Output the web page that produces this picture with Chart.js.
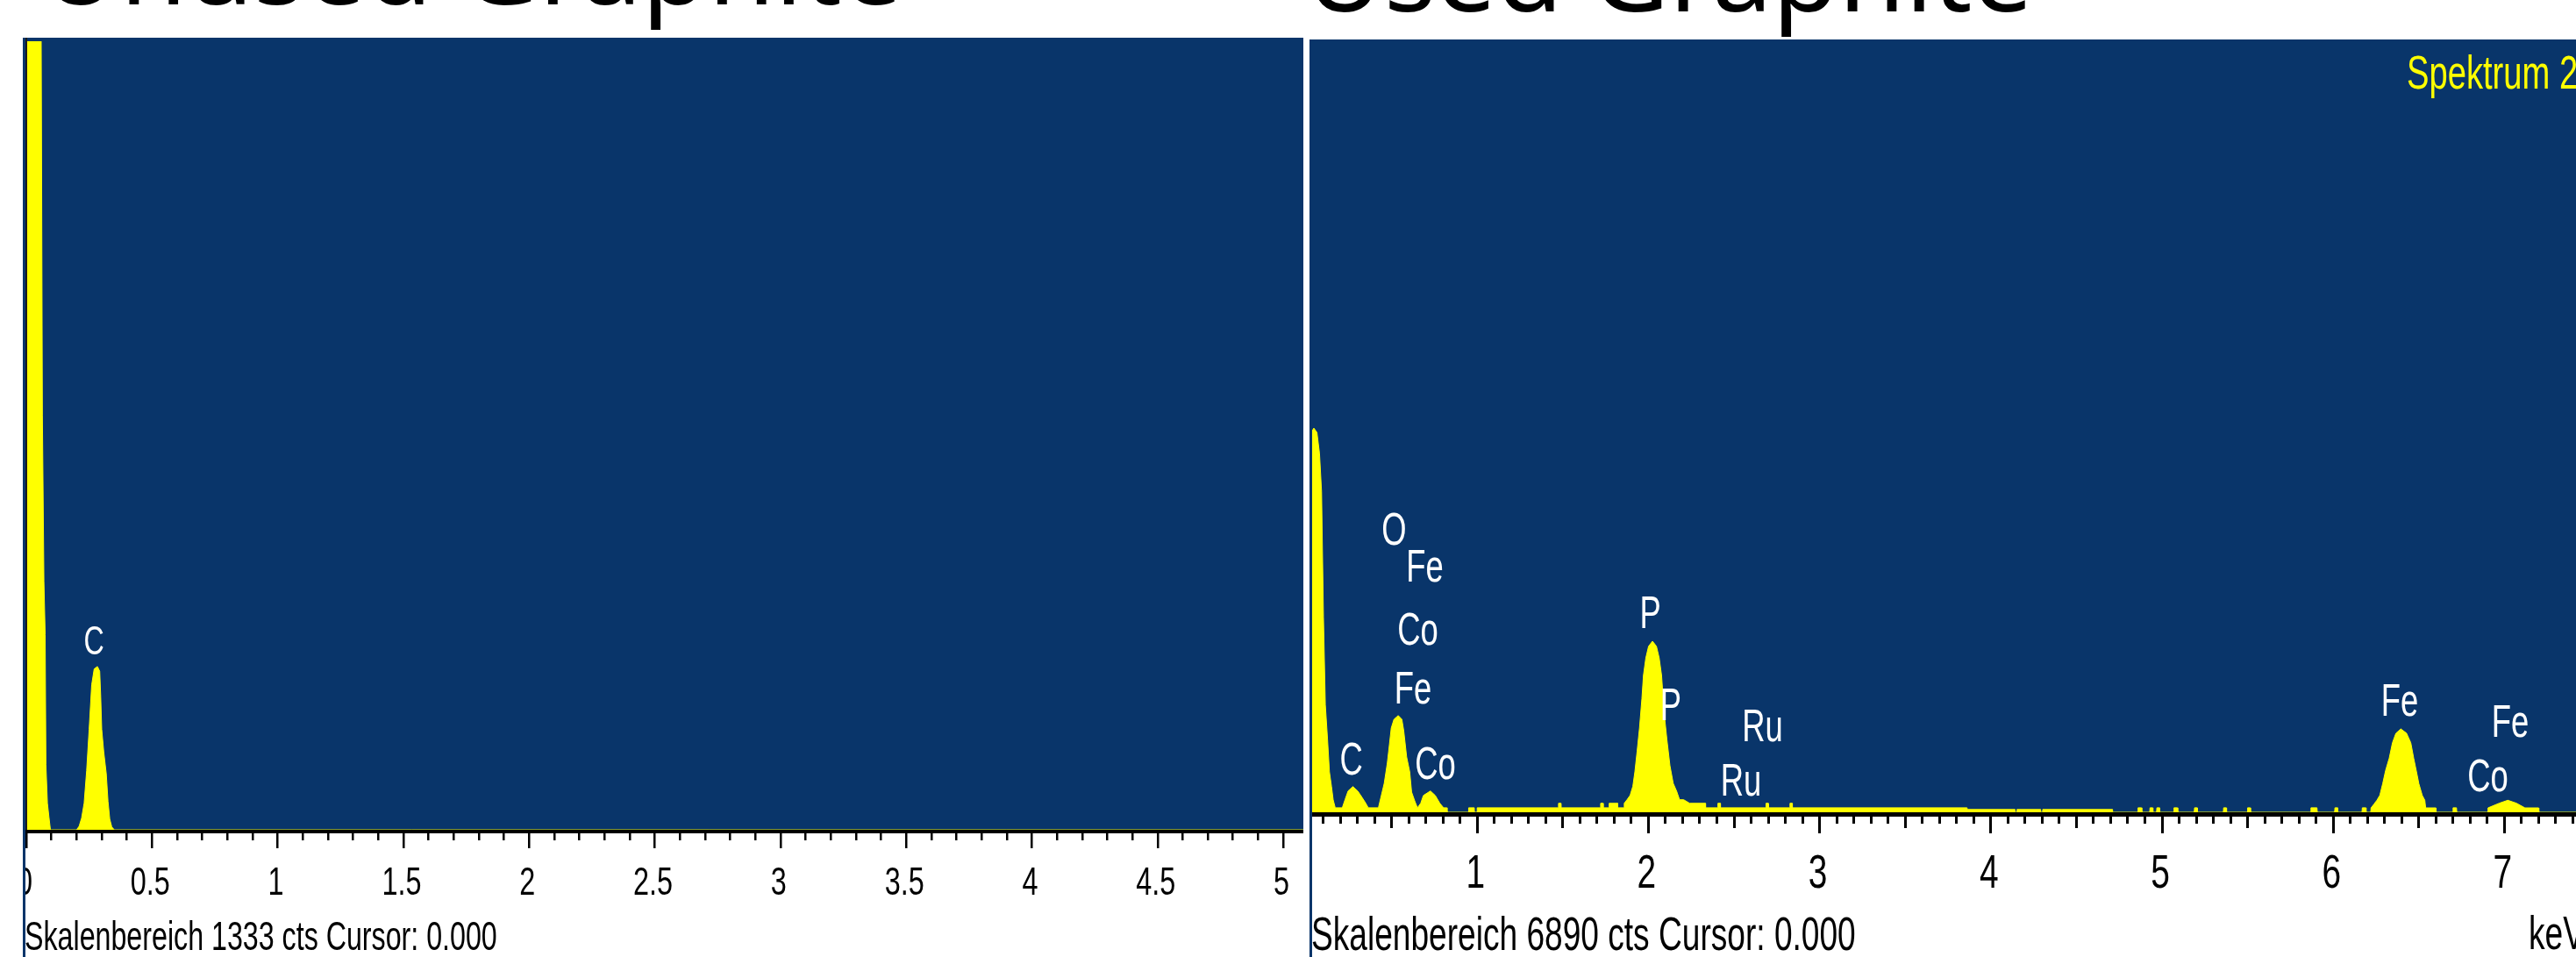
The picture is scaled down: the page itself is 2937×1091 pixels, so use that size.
<!DOCTYPE html>
<html><head><meta charset="utf-8">
<script src="https://cdn.jsdelivr.net/npm/chart.js@4/dist/chart.umd.min.js"></script>
<style>
html,body{margin:0;padding:0;background:#fff;width:2937px;height:1091px;overflow:hidden;}
canvas{position:absolute;top:0;}
#c1{left:0}
#c2{left:1489px}
</style></head><body>
<canvas id="c1" width="1489" height="1091"></canvas>
<canvas id="c2" width="1448" height="1091"></canvas>
<script>
// ---------- data ----------
const titleUnused = 'Unused Graphite';
const titleUsed = 'Used Graphite';
const footerUnused = 'Skalenbereich 1333 cts Cursor: 0.000';
const footerUsed = 'Skalenbereich 6890 cts Cursor: 0.000';
const spectrumName = 'Spektrum 2';
const unitLabel = 'keV';
const fullScaleUnused = 1333;
const fullScaleUsed = 6890;

const tickValuesUnused = [0, 0.5, 1, 1.5, 2, 2.5, 3, 3.5, 4, 4.5, 5];
const tickLabelsUnused = ['0', '0.5', '1', '1.5', '2', '2.5', '3', '3.5', '4', '4.5', '5'];
const tickValuesUsed = [1, 2, 3, 4, 5, 6, 7];
const tickLabelsUsed = ['1', '2', '3', '4', '5', '6', '7'];

// [keV, counts]
const spectrumUnused = [
  [0.0, 6000], [0.05, 6000], [0.058, 1500], [0.064, 700], [0.07, 420], [0.075, 330], [0.078, 110],
  [0.084, 45], [0.09, 22], [0.096, 0],
  [0.2, 0], [0.21, 6], [0.22, 20], [0.23, 45], [0.24, 100], [0.25, 170], [0.26, 245], [0.27, 272],
  [0.283, 276], [0.292, 268], [0.296, 225], [0.3, 170], [0.308, 132], [0.318, 95], [0.325, 48],
  [0.332, 18], [0.34, 5], [0.35, 0], [5.08, 0]
];

const spectrumUsed = [
  [0.0205, 3380], [0.036, 3400], [0.046, 3425], [0.064, 3386], [0.079, 3200], [0.091, 2860], [0.102, 1740],
  [0.113, 960], [0.126, 650], [0.137, 360], [0.149, 230], [0.159, 110], [0.171, 40],
  [0.212, 40], [0.228, 112], [0.246, 190], [0.274, 229], [0.302, 190], [0.32, 150], [0.347, 86], [0.364, 40],
  [0.423, 40], [0.44, 149], [0.457, 258], [0.475, 438], [0.485, 571], [0.498, 751], [0.514, 829], [0.539, 862],
  [0.56, 829], [0.571, 727], [0.588, 493], [0.606, 360], [0.617, 180], [0.635, 102], [0.651, 40],
  [0.67, 80], [0.686, 150], [0.727, 190], [0.755, 150], [0.782, 80], [0.804, 40], [0.823, 40], [0.824, 0],
  [0.949, 0], [0.95, 40], [0.983, 40], [0.984, 0], [0.999, 0], [1.0, 40],
  [1.474, 40], [1.475, 80], [1.49, 80], [1.491, 40],
  [1.72, 40], [1.721, 80], [1.735, 80], [1.736, 40],
  [1.77, 40], [1.771, 80], [1.82, 80], [1.821, 40],
  [1.855, 40], [1.859, 80], [1.875, 112], [1.893, 150], [1.909, 230], [1.921, 360], [1.934, 542], [1.948, 751],
  [1.962, 1011], [1.971, 1220], [1.985, 1376], [2.001, 1480], [2.024, 1525], [2.047, 1480], [2.063, 1376],
  [2.077, 1220], [2.092, 884], [2.108, 650], [2.126, 415], [2.145, 258], [2.165, 188], [2.182, 112],
  [2.206, 112], [2.241, 80], [2.333, 80], [2.334, 40],
  [2.405, 40], [2.406, 80], [2.42, 80], [2.421, 40],
  [2.686, 40], [2.687, 80], [2.7, 80], [2.701, 40],
  [2.826, 40], [2.827, 80], [2.84, 80], [2.841, 40],
  [3.86, 40], [3.861, 25], [4.14, 25], [4.141, 0], [4.152, 0], [4.153, 25], [4.29, 25], [4.291, 0],
  [4.302, 0], [4.303, 25], [4.71, 25], [4.711, 0],
  [4.858, 0], [4.86, 40], [4.88, 40], [4.882, 0],
  [4.928, 0], [4.93, 40], [4.945, 40], [4.947, 0],
  [4.968, 0], [4.97, 40], [4.985, 40], [4.987, 0],
  [5.068, 0], [5.07, 40], [5.09, 40], [5.092, 0],
  [5.188, 0], [5.19, 40], [5.205, 40], [5.207, 0],
  [5.358, 0], [5.36, 40], [5.375, 40], [5.377, 0],
  [5.498, 0], [5.5, 40], [5.515, 40], [5.517, 0],
  [5.868, 0], [5.87, 40], [5.905, 40], [5.907, 0],
  [6.008, 0], [6.01, 40], [6.025, 40], [6.027, 0],
  [6.168, 0], [6.17, 40], [6.19, 40], [6.192, 0],
  [6.219, 0], [6.221, 39], [6.238, 73], [6.255, 107], [6.272, 151], [6.289, 256], [6.306, 373], [6.327, 482],
  [6.346, 620], [6.366, 704], [6.395, 743], [6.428, 705], [6.453, 620], [6.47, 482], [6.49, 334], [6.5, 256],
  [6.52, 151], [6.535, 107], [6.54, 39], [6.6, 39], [6.601, 0],
  [6.698, 0], [6.7, 40], [6.72, 40], [6.722, 0],
  [6.902, 0], [6.904, 39], [6.97, 81], [7.02, 107], [7.07, 81], [7.12, 39], [7.2, 39], [7.201, 0], [7.418, 0]
];

const peakLabelsUnused = ['C'];
const peakLabelEnergyUnused = [0.269];
const peakLabelCountsUnused = [297];

const peakLabelsUsed = ['O', 'Fe', 'Co', 'Fe', 'C', 'Co', 'P', 'P', 'Ru', 'Ru', 'Fe', 'Fe', 'Co'];
const peakLabelEnergyUsed = [0.515, 0.694, 0.653, 0.625, 0.264, 0.756, 2.011, 2.131, 2.667, 2.541, 6.388, 7.034, 6.903];
const peakLabelCountsUsed = [2385, 2057, 1494, 970, 336, 297, 1642, 821, 633, 149, 860, 673, 188];

// ---------- styling ----------
const BLUE = '#09356A';
const YELLOW = '#FFFF00';
const PIXFONT = "'Liberation Sans', Arial, sans-serif";
const SX = 0.7;

function narrowText(ctx, text, x, y, size, color, align, sx) {
  ctx.save();
  ctx.font = size + 'px ' + PIXFONT;
  ctx.fillStyle = color;
  ctx.textBaseline = 'alphabetic';
  ctx.textAlign = align || 'left';
  ctx.translate(x, y);
  ctx.scale(sx || SX, 1);
  ctx.fillText(text, 0, 0);
  ctx.restore();
}

const decor = {
  id: 'decor',
  beforeDraw(chart, args, o) {
    const ctx = chart.ctx, a = chart.chartArea;
    ctx.save();
    ctx.fillStyle = '#fff';
    ctx.fillRect(0, 0, chart.width, chart.height);
    ctx.fillStyle = BLUE;
    ctx.fillRect(o.panelLeft, o.panelTop, a.right - o.panelLeft, a.bottom - o.panelTop);
    ctx.restore();
  },
  afterDraw(chart, args, o) {
    const ctx = chart.ctx, a = chart.chartArea;
    const xs = chart.scales.x, ys = chart.scales.y;
    ctx.save();
    if (o.yStripe) {
      ctx.fillStyle = '#1c1c1c';
      ctx.fillRect(a.left - 1, o.panelTop, 2, a.bottom - o.panelTop);
    }
    // axis line
    ctx.fillStyle = '#000';
    ctx.fillRect(o.axisLeft, a.bottom, a.right - o.axisLeft, o.axisT);
    // tick marks every 0.1 keV
    for (let k = o.tickFrom; k <= o.tickTo; k++) {
      const px = xs.getPixelForValue(k / 10);
      let len = o.minorLen;
      if (k % 10 === 0) len = o.majorLen; else if (k % 5 === 0) len = o.halfLen;
      ctx.fillRect(Math.round(px - o.tickW / 2), a.bottom + o.axisT, o.tickW, len - o.axisT);
    }
    // tick labels, placed by the library's scale
    xs.ticks.forEach((t, i) => {
      narrowText(ctx, o.tickLabels[i], xs.getPixelForTick(i) - 2, o.tickBase, o.tickSize, '#000', 'center', 0.72);
    });
    // white mask left of border below axis and blue border line
    ctx.fillStyle = '#fff';
    ctx.fillRect(0, a.bottom + o.axisT, o.panelLeft, chart.height);
    ctx.fillStyle = BLUE;
    ctx.fillRect(o.panelLeft, o.panelTop, 3, chart.height - o.panelTop);
    // peak labels
    for (let i = 0; i < o.labels.length; i++) {
      narrowText(ctx, o.labels[i], xs.getPixelForValue(o.labelE[i]), ys.getPixelForValue(o.labelC[i]),
        o.labelSize, '#fff', 'center');
    }
    // footer
    narrowText(ctx, o.footer, o.footerX, o.footerY, o.footerSize, '#000', 'left');
    if (o.unit) narrowText(ctx, o.unit, o.unitX, o.footerY - 1, o.footerSize, '#000', 'left');
    if (o.spec) narrowText(ctx, o.spec, o.specX, o.specY, o.footerSize, YELLOW, 'left', 0.72);
    // title
    ctx.font = '123px "Noto Sans", "Open Sans", sans-serif';
    ctx.fillStyle = '#000';
    ctx.textAlign = 'left';
    ctx.textBaseline = 'alphabetic';
    ctx.fillText(o.title, o.titleX, o.titleY);
    ctx.restore();
  }
};

function makeChart(id, spectrum, cfg) {
  return new Chart(document.getElementById(id), {
    type: 'line',
    data: {
      datasets: [{
        data: spectrum.map(p => ({ x: p[0], y: p[1] })),
        fill: 'origin',
        backgroundColor: YELLOW,
        borderColor: YELLOW,
        borderWidth: 1,
        pointRadius: 0,
        tension: 0
      }]
    },
    options: {
      responsive: false,
      animation: false,
      devicePixelRatio: 1,
      layout: { padding: cfg.padding, autoPadding: false },
      plugins: { legend: { display: false }, tooltip: { enabled: false }, decor: cfg.decor },
      scales: {
        x: {
          type: 'linear', min: cfg.xMin, max: cfg.xMax,
          grid: { display: false, drawTicks: false, tickLength: 0 },
          border: { display: false },
          afterBuildTicks: s => { s.ticks = cfg.tickValues.map(v => ({ value: v })); },
          afterFit: s => { s.height = cfg.axisHeight; s.paddingLeft = 0; s.paddingRight = 0; },
          ticks: { display: false, autoSkip: false, maxRotation: 0, minRotation: 0 }
        },
        y: { type: 'linear', display: false, min: 0, max: cfg.yMax }
      }
    },
    plugins: [decor]
  });
}

makeChart('c1', spectrumUnused, {
  padding: { left: 30, right: 3, top: 47, bottom: 0 },
  xMin: 0, xMax: 5.08, yMax: fullScaleUnused,
  tickValues: tickValuesUnused,
  axisHeight: 145,
  decor: {
    panelLeft: 26, panelTop: 43, yStripe: true, axisLeft: 29, axisT: 4,
    tickFrom: 0, tickTo: 50, minorLen: 12, halfLen: 21, majorLen: 21, tickW: 2.5,
    tickLabels: tickLabelsUnused, tickBase: 1020, tickSize: 45,
    labels: peakLabelsUnused, labelE: peakLabelEnergyUnused, labelC: peakLabelCountsUnused, labelSize: 46,
    footer: footerUnused, footerX: 28, footerY: 1083, footerSize: 46,
    title: titleUnused, titleX: 47, titleY: 5
  }
});

makeChart('c2', spectrumUsed, {
  padding: { left: 4, right: 0, top: 45, bottom: 0 },
  xMin: 0.0205, xMax: 7.418, yMax: fullScaleUsed,
  tickValues: tickValuesUsed,
  axisHeight: 165,
  decor: {
    panelLeft: 4, panelTop: 45, yStripe: false, axisLeft: 7, axisT: 5,
    tickFrom: 1, tickTo: 74, minorLen: 13, halfLen: 18, majorLen: 24, tickW: 3,
    tickLabels: tickLabelsUsed, tickBase: 1012, tickSize: 54,
    labels: peakLabelsUsed, labelE: peakLabelEnergyUsed, labelC: peakLabelCountsUsed, labelSize: 52,
    footer: footerUsed, footerX: 6, footerY: 1083, footerSize: 53,
    unit: unitLabel, unitX: 1394,
    spec: spectrumName, specX: 1255, specY: 101,
    title: titleUsed, titleX: -1, titleY: 13
  }
});
</script>
</body></html>
